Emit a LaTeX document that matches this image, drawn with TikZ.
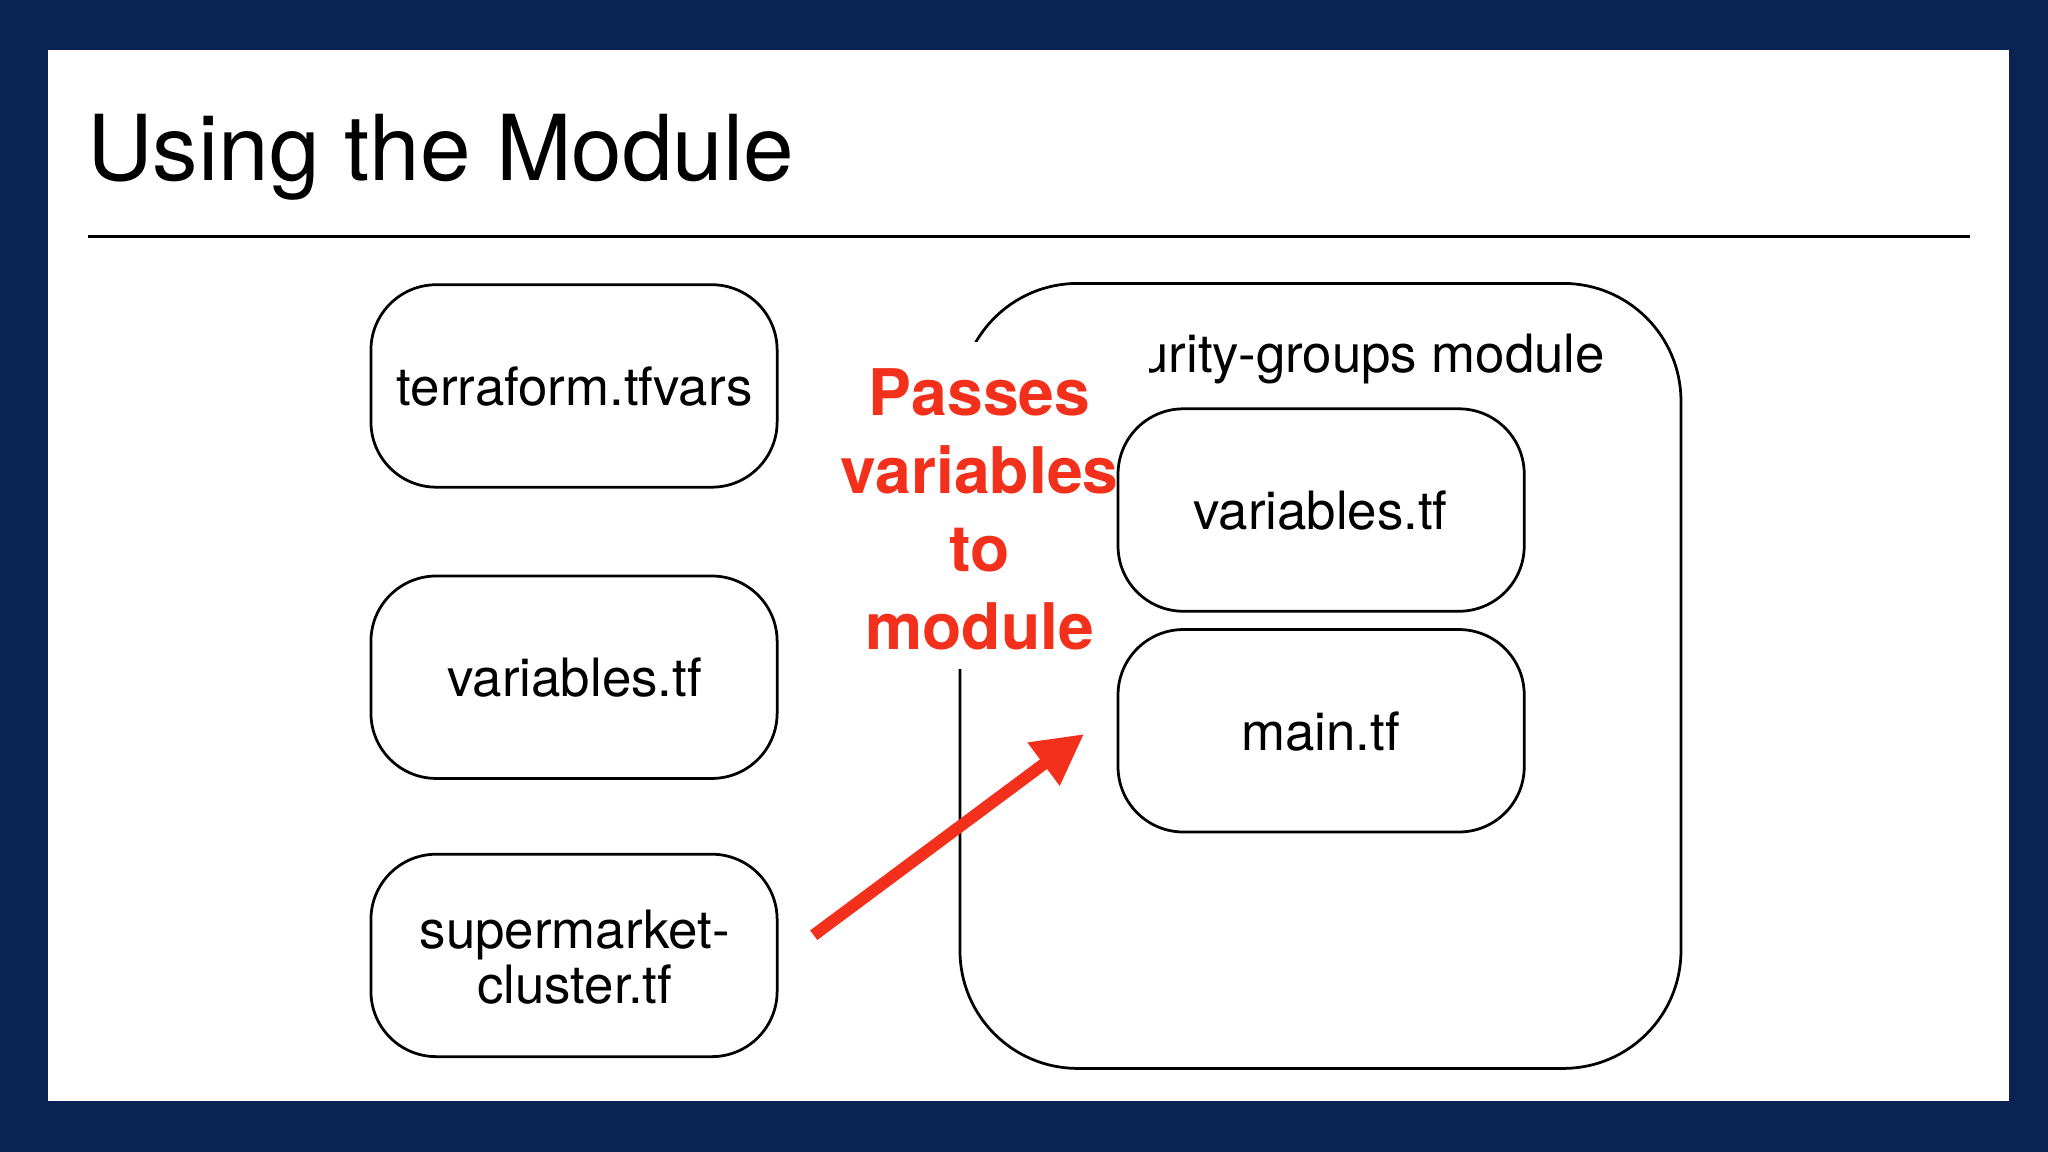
\documentclass[tikz,border=0pt]{standalone}
\usetikzlibrary{arrows.meta}
\usepackage{fontspec}
\setmainfont{TeX Gyre Heros}
\definecolor{navy}{HTML}{0B2352}
\definecolor{redt}{HTML}{F2301B}
\begin{document}
\begin{tikzpicture}[x=0.01cm,y=-0.01cm,
  filebox/.style={draw=black,line width=0.6pt,rounded corners=0.5cm,fill=white},
  lbl/.style={font=\fontsize{11.5}{14}\selectfont,align=center}]
\useasboundingbox (0,0) rectangle (1568,882);
\fill[navy] (0,0) rectangle (1568,882);
\fill[white] (37,38) rectangle (1538,843);
\node[anchor=base west,inner sep=0,font=\fontsize{19.8}{24}\selectfont] (title) at (66,138) {Using the Module};
\coordinate (l1) at (67,181); \coordinate (l2) at (1508,181);
\draw[line width=0.6pt] (l1) -- (l2);
% big module box
\draw[line width=0.6pt,rounded corners=0.9cm] (735,217) rectangle (1287,818);
\node[lbl,anchor=base west] (mlab) at (797,285) {security-groups module};
% white cover
\fill[white] (636,262) rectangle (880,512);
% file boxes
\draw[filebox] (284,218) rectangle (595,373); \node[lbl] (tfvars) at (440,296) {terraform.tfvars};
\draw[filebox] (284,441) rectangle (595,596); \node[lbl] (vars) at (440,519) {variables.tf};
\draw[filebox] (284,654) rectangle (595,809); \node[lbl] (sc) at (440,733) {supermarket-\\[-2pt]cluster.tf};
\draw[filebox] (856,313) rectangle (1167,468); \node[lbl] (mvars) at (1011,391) {variables.tf};
\draw[filebox] (856,482) rectangle (1167,637); \node[lbl] (mmain) at (1011,560) {main.tf};
\node[text=redt,font=\bfseries\fontsize{14}{17}\selectfont,align=center] (pass) at (750,390) {Passes\\variables\\to\\module};
\coordinate (a1) at (623,716); \coordinate (a2) at (830,562);
\draw[redt,line width=2.6pt,-{Triangle[length=11pt,width=11pt]}] (a1) -- (a2);
\end{tikzpicture}
\end{document}
